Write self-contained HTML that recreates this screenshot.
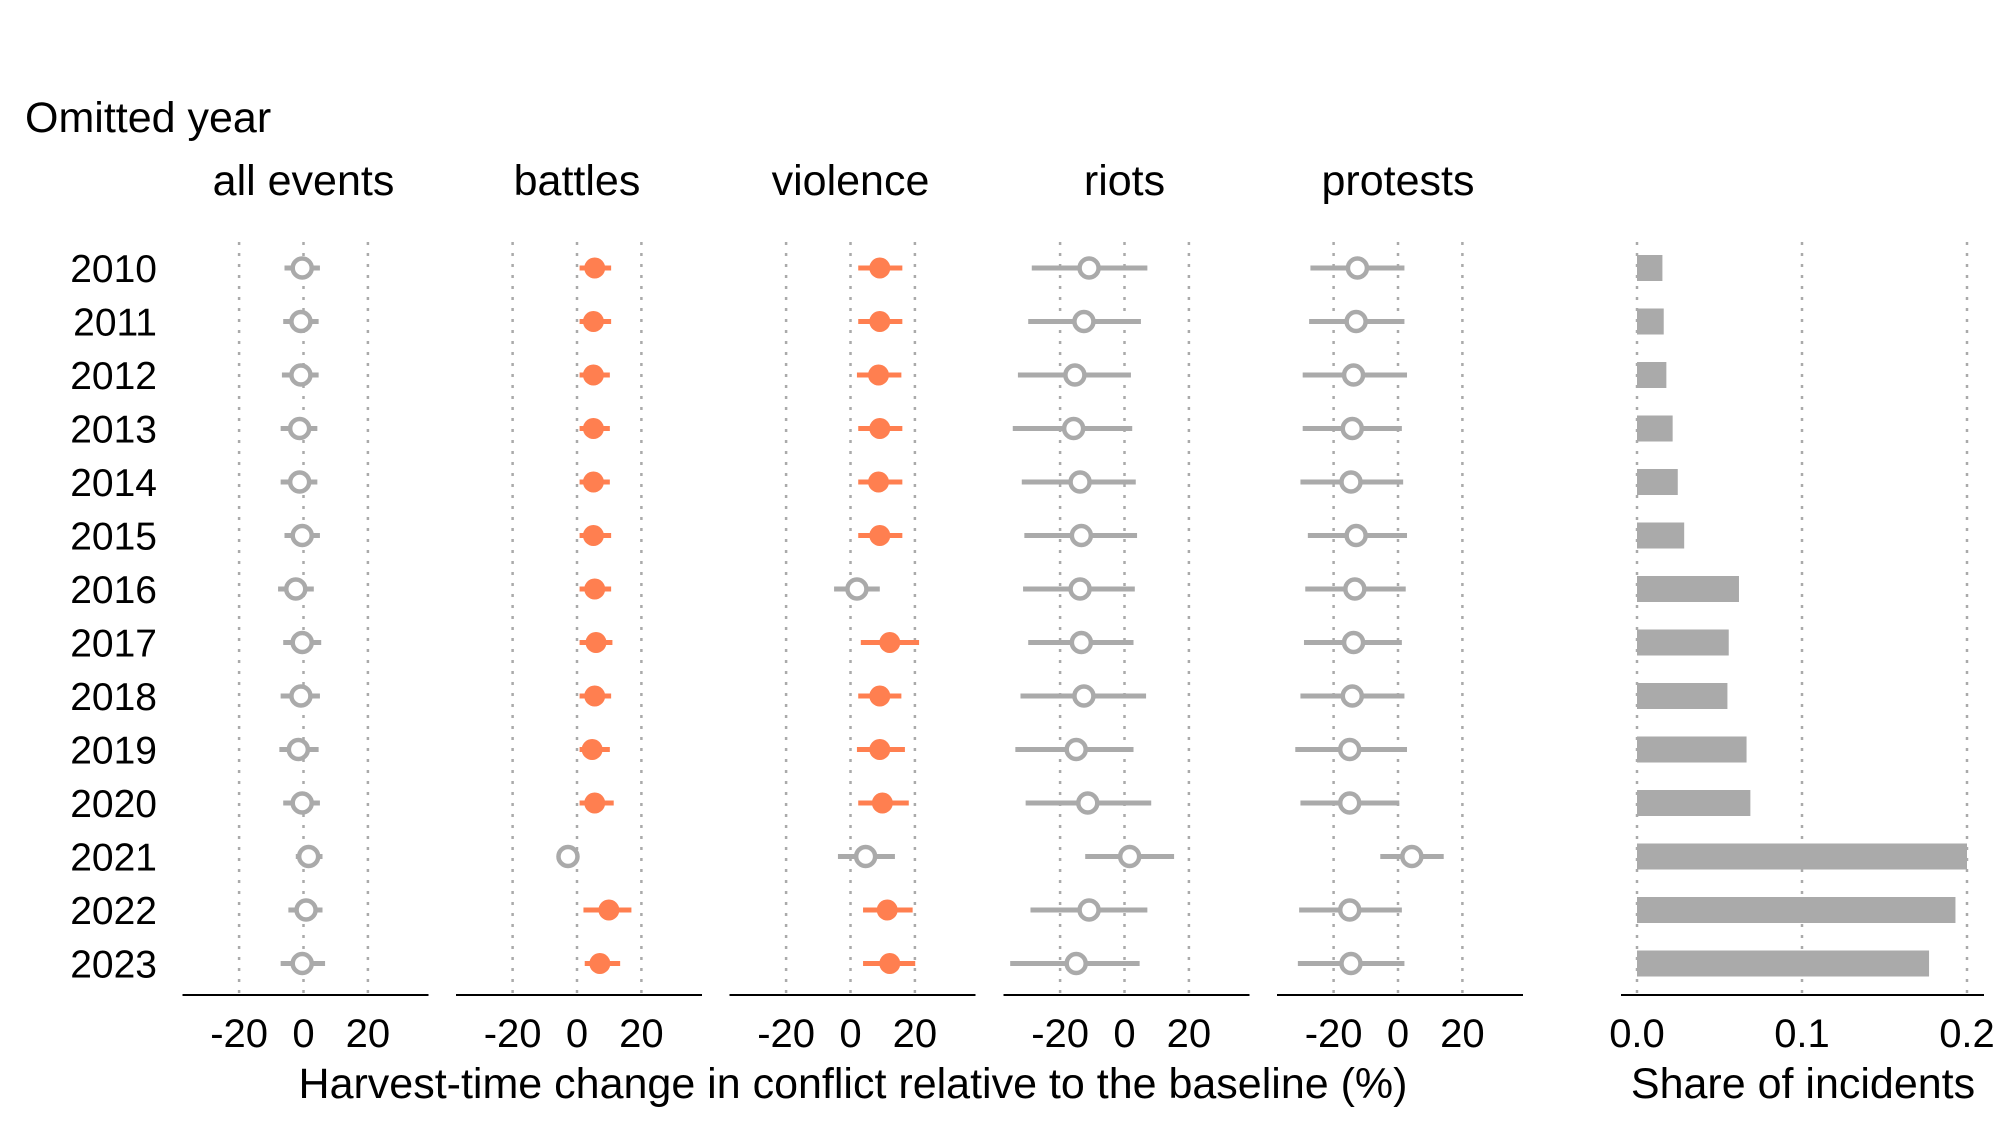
<!DOCTYPE html>
<html><head><meta charset="utf-8"><style>
html,body{margin:0;padding:0;background:#fff;}
svg{display:block;font-family:"Liberation Sans",sans-serif;}
</style></head><body>
<svg id="chart" width="2000" height="1125" viewBox="0 0 2000 1125" xmlns="http://www.w3.org/2000/svg">
<text x="25" y="132" font-size="43">Omitted year</text>
<text x="853" y="1098" font-size="43" text-anchor="middle">Harvest-time change in conflict relative to the baseline (%)</text>
<text x="1803" y="1098" font-size="43" text-anchor="middle">Share of incidents</text>
</svg>
<script>
const years = [2010,2011,2012,2013,2014,2015,2016,2017,2018,2019,2020,2021,2022,2023];
const panelNames = ["all events","battles","violence","riots","protests"];
const xTicks = [-20,0,20];
const allPt = [-0.4,-0.8,-0.8,-1.2,-1.2,-0.4,-2.4,-0.4,-0.8,-1.6,-0.4,1.6,0.8,-0.4];
const allLo = [-5.9,-6.3,-6.7,-7.1,-7.1,-5.9,-7.9,-6.3,-7.1,-7.5,-6.3,-2.4,-4.7,-7.1];
const allHi = [5.1,4.7,4.7,4.3,4.3,5.1,3.2,5.5,5.1,4.7,5.1,5.9,5.9,6.7];
const allSig = [0,0,0,0,0,0,0,0,0,0,0,0,0,0];
const batPt = [5.5,5.1,5.1,5.1,5.1,5.1,5.5,5.9,5.5,4.7,5.5,-2.8,9.9,7.1];
const batLo = [0.8,0.8,0.8,0.8,0.8,0.8,0.8,0.8,0.8,0.8,0.8,-4.0,2.0,2.4];
const batHi = [10.6,10.6,10.2,10.2,10.2,10.6,10.6,11.0,10.6,10.2,11.4,-1.6,16.9,13.4];
const batSig = [1,1,1,1,1,1,1,1,1,1,1,0,1,1];
const vioPt = [9.1,9.1,8.7,9.1,8.7,9.1,2.0,12.2,9.1,9.1,9.9,4.7,11.4,12.2];
const vioLo = [2.4,2.4,2.0,2.4,2.4,2.4,-5.1,3.2,2.4,2.0,2.4,-3.9,3.9,3.9];
const vioHi = [16.1,16.1,15.8,16.1,16.1,16.1,9.1,21.3,15.8,16.9,18.1,13.8,19.3,20.1];
const vioSig = [1,1,1,1,1,1,0,1,1,1,1,0,1,1];
const rioPt = [-11.0,-12.6,-15.4,-15.8,-13.8,-13.4,-13.8,-13.4,-12.6,-15.0,-11.4,1.6,-11.0,-15.0];
const rioLo = [-28.8,-29.9,-33.1,-34.7,-31.9,-31.1,-31.5,-29.9,-32.3,-33.9,-30.7,-12.2,-29.2,-35.5];
const rioHi = [7.1,5.1,2.0,2.4,3.5,3.9,3.2,2.8,6.7,2.8,8.3,15.4,7.1,4.7];
const rioSig = [0,0,0,0,0,0,0,0,0,0,0,0,0,0];
const proPt = [-12.6,-13.0,-13.8,-14.2,-14.6,-13.0,-13.4,-13.8,-14.2,-15.0,-15.0,4.3,-15.0,-14.6];
const proLo = [-27.2,-27.6,-29.6,-29.6,-30.3,-28.0,-28.8,-29.2,-30.3,-31.9,-30.3,-5.5,-30.7,-31.1];
const proHi = [2.0,2.0,2.8,1.2,1.6,2.8,2.4,1.2,2.0,2.8,0.4,14.2,1.2,2.0];
const proSig = [0,0,0,0,0,0,0,0,0,0,0,0,0,0];
const shares = [0.0154,0.0162,0.0178,0.0216,0.0247,0.0286,0.0618,0.0556,0.0548,0.0664,0.0687,0.2,0.193,0.177];
const shareTicks = [0.0,0.1,0.2];
const shareTickLabels = ["0.0","0.1","0.2"];

const svg = document.getElementById('chart');
const NS = 'http://www.w3.org/2000/svg';
function mk(tag, attrs){const e=document.createElementNS(NS,tag);for(const k in attrs)e.setAttribute(k,attrs[k]);svg.appendChild(e);return e;}
const GRAY='#aaaaaa', ORANGE='#ff7f50';
const y = i => 268 + i*53.5;
const axisY = 995, gridTop = 242;
const panelZero = [303.5,577,850.5,1124.5,1398];
const unit = 3.22;
const series = [[allPt,allLo,allHi,allSig],[batPt,batLo,batHi,batSig],[vioPt,vioLo,vioHi,vioSig],[rioPt,rioLo,rioHi,rioSig],[proPt,proLo,proHi,proSig]];

years.forEach((yr,i)=>{
  const t=mk('text',{x:157,y:y(i)+14,'font-size':39,'text-anchor':'end'});
  t.textContent=yr;
  
  
});

panelNames.forEach((nm,p)=>{
  const z=panelZero[p];
  const xs=v=>z+v*unit;
  const t=mk('text',{x:z,y:195,'font-size':43,'text-anchor':'middle'});
  t.textContent=nm;
  
  
  xTicks.forEach(tv=>{
    const g=mk('line',{x1:xs(tv),x2:xs(tv),y1:gridTop,y2:axisY,stroke:'#aaaaaa','stroke-width':2.5,'stroke-dasharray':'3 8'});
    
    
    const tl=mk('text',{x:xs(tv),y:1047,'font-size':40,'text-anchor':'middle'});
    tl.textContent=tv;
    
    
  });
  const ax=mk('line',{x1:z-121,x2:z+125,y1:axisY,y2:axisY,stroke:'#000','stroke-width':2});
  
  
  const [pt,lo,hi,sig]=series[p];
  years.forEach((yr,i)=>{
    const c=sig[i]?ORANGE:GRAY;
    const l=mk('line',{x1:xs(lo[i]),x2:xs(hi[i]),y1:y(i),y2:y(i),stroke:c,'stroke-width':5});
    
    
    const ci=mk('circle',{cx:xs(pt[i]),cy:y(i),r:sig[i]?10.5:9.5,fill:sig[i]?ORANGE:'#fff',stroke:c,'stroke-width':sig[i]?0:4.5});
    
    
  });
});

const bx0=1637, bscale=1650;
shareTicks.forEach((tv,k)=>{
  const g=mk('line',{x1:bx0+tv*bscale,x2:bx0+tv*bscale,y1:gridTop,y2:axisY,stroke:'#aaaaaa','stroke-width':2.5,'stroke-dasharray':'3 8'});
  
  
  const tl=mk('text',{x:bx0+tv*bscale,y:1047,'font-size':40,'text-anchor':'middle'});
  tl.textContent=shareTickLabels[k];
  
  
});
shares.forEach((s,i)=>{
  const r=mk('rect',{x:bx0,y:y(i)-13,width:s*bscale,height:26,fill:GRAY});
  
  
});
const bax=mk('line',{x1:1621,x2:1984,y1:axisY,y2:axisY,stroke:'#000','stroke-width':2});


</script>
</body></html>
